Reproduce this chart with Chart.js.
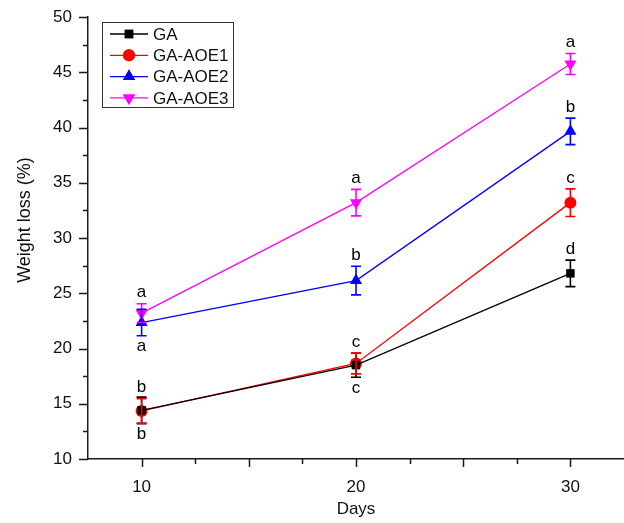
<!DOCTYPE html>
<html>
<head>
<meta charset="utf-8">
<script src="https://cdn.jsdelivr.net/npm/chart.js@4.4.0/dist/chart.umd.min.js"></script>
<style>
  html, body { margin: 0; padding: 0; background: #fff; }
  #wrap { width: 624px; height: 523px; }
</style>
</head>
<body>
<div id="wrap"><canvas id="myChart" width="624" height="523"></canvas></div>
<script>
// data
const days = [10, 20, 30];
const seriesNames = ['GA', 'GA-AOE1', 'GA-AOE2', 'GA-AOE3'];
const gaValues   = [14.4, 18.5, 26.8];
const aoe1Values = [14.35, 18.65, 33.2];
const aoe2Values = [22.35, 26.15, 39.65];
const aoe3Values = [23.2, 33.2, 45.75];
const gaErr   = [1.2, 1.1, 1.2];
const aoe1Err = [1.1, 0.95, 1.25];
const aoe2Err = [1.2, 1.3, 1.2];
const aoe3Err = [0.85, 1.2, 0.95];
// significance letters, with where they sit relative to the error bar
const gaLetters   = [['b', 'below'], ['c', 'below'], ['d', 'above']];
const aoe1Letters = [['b', 'above'], ['c', 'above'], ['c', 'above']];
const aoe2Letters = [['a', 'below'], ['b', 'above'], ['b', 'above']];
const aoe3Letters = [['a', 'above'], ['a', 'above'], ['a', 'above']];
const xTicks = [10, 20, 30];
const yTitle = 'Weight loss (%)';

const FONT = '"Liberation Sans", Arial, sans-serif';

const makeSet = (label, values, errs, letters, color, style, rot, radius) => ({
    label: label,
    data: days.map((d, i) => ({x: d, y: values[i]})),
    errs: errs,
    letters: letters,
    borderColor: color,
    backgroundColor: color,
    borderWidth: 1.3,
    pointStyle: style,
    rotation: rot,
    pointRadius: radius,
    pointHoverRadius: radius,
    pointBorderWidth: 0,
    tension: 0
});

// order: last drawn on top
const datasets = [
    makeSet(seriesNames[3], aoe3Values, aoe3Err, aoe3Letters, '#ff00ff', 'triangle', 180, 7),
    makeSet(seriesNames[2], aoe2Values, aoe2Err, aoe2Letters, '#0000ff', 'triangle', 0, 7),
    makeSet(seriesNames[0], gaValues, gaErr, gaLetters, '#000000', 'rect', 0, 6),
    makeSet(seriesNames[1], aoe1Values, aoe1Err, aoe1Letters, '#ff0000', 'circle', 0, 6)
];

const errorBars = {
    id: 'errorBars',
    afterDatasetsDraw(chart) {
        const ctx = chart.ctx;
        const xs = chart.scales.x, ys = chart.scales.y;
        ctx.save();
        chart.data.datasets.forEach(ds => {
            ds.data.forEach((p, i) => {
                const px = xs.getPixelForValue(p.x);
                const top = ys.getPixelForValue(p.y + ds.errs[i]);
                const bot = ys.getPixelForValue(p.y - ds.errs[i]);
                ctx.strokeStyle = ds.borderColor;
                ctx.lineWidth = 1.6;
                ctx.beginPath();
                ctx.moveTo(px, top); ctx.lineTo(px, bot);
                ctx.moveTo(px - 5, top); ctx.lineTo(px + 5, top);
                ctx.moveTo(px - 5, bot); ctx.lineTo(px + 5, bot);
                ctx.stroke();
                // letters
                const [txt, where] = ds.letters[i];
                ctx.fillStyle = '#000';
                ctx.font = '17px ' + FONT;
                ctx.textAlign = 'center';
                ctx.textBaseline = 'middle';
                const ly = where === 'above' ? top - 11 : bot + 11;
                ctx.fillText(txt, px, ly);
            });
        });
        ctx.restore();
    }
};

const tickMarks = {
    id: 'tickMarks',
    afterDraw(chart) {
        const ctx = chart.ctx;
        const xs = chart.scales.x, ys = chart.scales.y;
        const area = chart.chartArea;
        ctx.save();
        ctx.strokeStyle = '#1a1a1a';
        ctx.lineWidth = 1.5;
        ctx.beginPath();
        xs.ticks.forEach(t => {
            if (t.value <= xs.min || t.value >= xs.max) return;
            const px = Math.round(xs.getPixelForValue(t.value)) + 0.5;
            const len = t.value % 5 === 0 ? 8 : 5;
            ctx.moveTo(px, area.bottom); ctx.lineTo(px, area.bottom + len);
        });
        ys.ticks.forEach(t => {
            const py = Math.round(ys.getPixelForValue(t.value)) + 0.5;
            const len = t.value % 5 === 0 ? 9 : 5;
            ctx.moveTo(area.left, py); ctx.lineTo(area.left - len, py);
        });
        ctx.stroke();
        // y axis title, sits a little above the axis middle in the original
        ctx.translate(25, 220);
        ctx.rotate(-Math.PI / 2);
        ctx.fillStyle = '#111';
        ctx.font = '18px ' + FONT;
        ctx.textAlign = 'center';
        ctx.textBaseline = 'middle';
        ctx.fillText(yTitle, 0, 0);
        ctx.restore();
    }
};

const legendBox = {
    id: 'legendBox',
    afterDraw(chart) {
        const ctx = chart.ctx;
        const order = [2, 3, 1, 0];
        ctx.save();
        ctx.strokeStyle = '#333';
        ctx.lineWidth = 1;
        ctx.strokeRect(102.5, 22.5, 131, 85);
        order.forEach((di, k) => {
            const ds = chart.data.datasets[di];
            const y = 34 + k * 21.3;
            ctx.strokeStyle = ds.borderColor;
            ctx.lineWidth = 1.3;
            ctx.beginPath();
            ctx.moveTo(110, y); ctx.lineTo(148, y);
            ctx.stroke();
            ctx.fillStyle = ds.borderColor;
            Chart.helpers.drawPoint(ctx, {
                pointStyle: ds.pointStyle, rotation: ds.rotation,
                radius: ds.pointRadius, borderWidth: 0
            }, 129, y);
            ctx.fill();
            ctx.fillStyle = '#111';
            ctx.font = '17px ' + FONT;
            ctx.textAlign = 'left';
            ctx.textBaseline = 'middle';
            ctx.fillText(ds.label, 153, y + 1);
        });
        ctx.restore();
    }
};

var ctx = document.getElementById('myChart').getContext('2d');
var chart = new Chart(ctx, {
    type: 'line',
    data: { datasets: datasets },
    plugins: [errorBars, tickMarks, legendBox],
    options: {
        responsive: false,
        animation: false,
        layout: { autoPadding: false, padding: { top: 17, right: 0, bottom: 0, left: 0 } },
        plugins: { legend: { display: false }, tooltip: { enabled: false } },
        scales: {
            x: {
                type: 'linear',
                min: 7.5, max: 32.5,
                afterFit: s => { s.height = 64; s.paddingLeft = 0; s.paddingRight = 0; },
                ticks: {
                    stepSize: 2.5, autoSkip: false, maxRotation: 0,
                    padding: 10, color: '#111',
                    font: { family: FONT, size: 17 },
                    callback: v => xTicks.includes(v) ? String(v) : ''
                },
                grid: { drawOnChartArea: false, tickColor: 'transparent', tickLength: 8 },
                border: { color: '#1a1a1a', width: 1.5 },
                title: {
                    display: true, text: 'Days', color: '#111',
                    font: { family: FONT, size: 17 }, padding: { top: 0, bottom: 3 }
                }
            },
            y: {
                min: 10, max: 50,
                afterFit: s => { s.width = 88; s.paddingTop = 0; s.paddingBottom = 0; },
                ticks: {
                    stepSize: 2.5, autoSkip: false, padding: 7, color: '#111',
                    font: { family: FONT, size: 17 },
                    callback: v => v % 5 === 0 ? String(v) : ''
                },
                grid: { drawOnChartArea: false, tickColor: 'transparent', tickLength: 9 },
                border: { color: '#1a1a1a', width: 1.5 }
            }
        }
    }
});
</script>
</body>
</html>
